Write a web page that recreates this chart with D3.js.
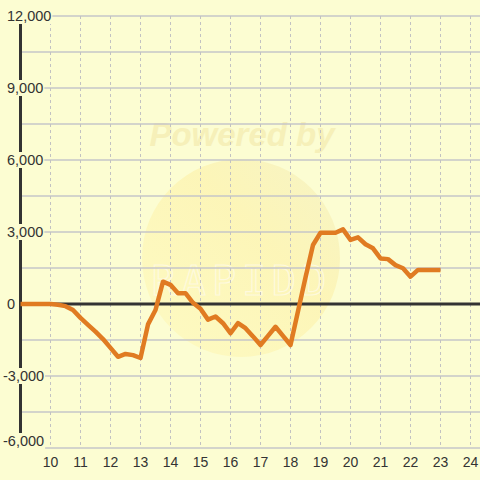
<!DOCTYPE html>
<html><head><meta charset="utf-8">
<script src="https://cdn.jsdelivr.net/npm/d3@7"></script>
<style>html,body{margin:0;padding:0;background:#fcfdd2;}svg{display:block;}</style>
</head><body>
<script>
const times = [9,10,10.25,10.5,10.75,11,11.25,11.5,11.75,12,12.25,12.5,12.75,13,13.25,13.5,13.75,14,14.25,14.5,14.75,15,15.25,15.5,15.75,16,16.25,16.5,16.75,17,17.25,17.5,17.75,18,18.25,18.5,18.75,19,19.25,19.5,19.75,20,20.25,20.5,20.75,21,21.25,21.5,21.75,22,22.25,22.5,22.75,23];
const values = [0,0,-30,-90,-250,-580,-870,-1150,-1460,-1830,-2200,-2080,-2130,-2250,-850,-250,930,800,450,450,50,-200,-650,-520,-800,-1220,-800,-1010,-1350,-1710,-1330,-950,-1330,-1710,-300,1100,2460,2970,2970,2970,3110,2670,2780,2490,2320,1900,1870,1620,1490,1140,1420,1420,1420,1420];
const xTicks = [10,11,12,13,14,15,16,17,18,19,20,21,22,23,24];
const yTicks = [-6000,-3000,0,3000,6000,9000,12000];
const yGrid = [-6000,-4500,-3000,-1500,0,1500,3000,4500,6000,7500,9000,10500,12000];

const W=480,H=480,bg="#fcfdd2";
const svg=d3.select("body").append("svg").attr("width",W).attr("height",H);
svg.append("rect").attr("width",W).attr("height",H).attr("fill",bg);
const x=d3.scaleLinear().domain([9,24.3167]).range([20.5,480]);
const y=d3.scaleLinear().domain([-6000,12000]).range([448,16]);

// watermark
const defs=svg.append("defs");
const g=defs.append("linearGradient").attr("id","wm").attr("x1","0").attr("y1","1").attr("x2","1").attr("y2","0");
g.append("stop").attr("offset","0").attr("stop-color","#fff7b0");
g.append("stop").attr("offset","0.6").attr("stop-color","#fdec98");
g.append("stop").attr("offset","1").attr("stop-color","#efe8b4");
svg.append("circle").attr("cx",241).attr("cy",258).attr("r",99).attr("fill","url(#wm)").attr("opacity",0.45);
svg.append("text").attr("x",242).attr("y",146).attr("text-anchor","middle")
  .attr("font-family","Liberation Sans, Arial, sans-serif").attr("font-size",33).attr("font-weight","bold").attr("font-style","italic")
  .attr("fill","#f5edb4").attr("opacity",0.8).text("Powered by");
svg.append("text").attr("x",242).attr("y",295).attr("text-anchor","middle")
  .attr("font-family","DejaVu Sans Mono, monospace").attr("font-size",40).attr("letter-spacing",6)
  .attr("fill","none").attr("stroke","#fffbe6").attr("stroke-width",1.2).attr("opacity",0.8).text("RAPIDD");

// grid
svg.append("g").selectAll("line").data(yGrid).join("line")
  .attr("x1",21).attr("x2",W).attr("y1",d=>y(d)).attr("y2",d=>y(d))
  .attr("stroke","#c6c6c8").attr("stroke-width",1.5);
svg.append("g").selectAll("line").data(xTicks).join("line")
  .attr("x1",d=>x(d)).attr("x2",d=>x(d)).attr("y1",16).attr("y2",448)
  .attr("stroke","#c2c2c2").attr("stroke-width",1).attr("stroke-dasharray","3,3");

// axes lines
svg.append("line").attr("x1",21).attr("x2",W).attr("y1",y(0)).attr("y2",y(0)).attr("stroke","#333").attr("stroke-width",3);
svg.append("line").attr("x1",20.5).attr("x2",20.5).attr("y1",16).attr("y2",448).attr("stroke","#333").attr("stroke-width",3);

// data line
const pts=times.map((t,i)=>[t,values[i]]);
svg.append("path").datum(pts).attr("fill","none").attr("stroke","#e07b22").attr("stroke-width",4.5)
  .attr("stroke-linejoin","round")
  .attr("d",d3.line().x(d=>x(d[0])).y(d=>y(d[1])));

// y labels
const fmt=d3.format(",");
const yl=svg.append("g").attr("font-family","Liberation Sans, Arial, sans-serif").attr("font-size",14.5).attr("fill","#333");
yTicks.forEach(v=>{
  const tx = v<0?3:7;
  const ty = Math.min(y(v), 441);
  const t=yl.append("text").attr("x",tx).attr("y",ty).attr("dy","0.36em").text(fmt(v).replace("−","-"));
  const bb=t.node().getBBox();
  yl.insert("rect","text").attr("x",bb.x-1).attr("y",ty-8).attr("width",bb.width+2).attr("height",v===-6000?20:16).attr("fill",bg);
});
// x labels
svg.append("g").attr("font-family","Liberation Sans, Arial, sans-serif").attr("font-size",14).attr("fill","#333")
  .selectAll("text").data(xTicks).join("text")
  .attr("x",d=>x(d)).attr("y",462).attr("dy","0.36em").attr("text-anchor","middle").text(d=>d);
</script>
</body></html>
